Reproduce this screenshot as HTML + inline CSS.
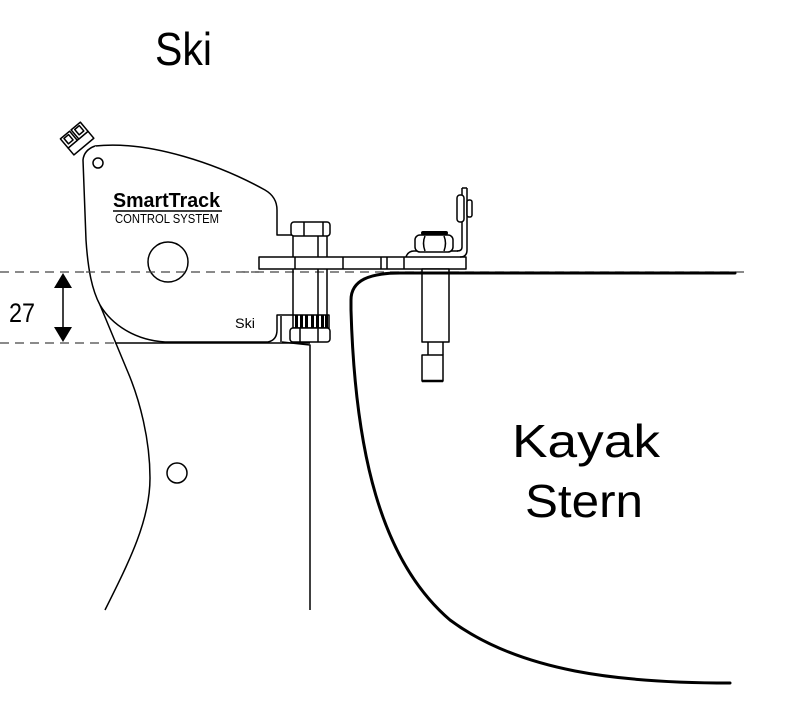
<!DOCTYPE html>
<html>
<head>
<meta charset="utf-8">
<style>
html,body{margin:0;padding:0;background:#fff;}
svg{display:block;}
text{font-family:"Liberation Sans",sans-serif;fill:#000;}
</style>
</head>
<body>
<svg width="792" height="714" viewBox="0 0 792 714" xmlns="http://www.w3.org/2000/svg">
  <rect width="792" height="714" fill="#fff"/>

  <!-- Titles -->
  <text x="155" y="65" font-size="46" textLength="57" lengthAdjust="spacingAndGlyphs">Ski</text>
  <text x="512" y="457" font-size="46" textLength="148" lengthAdjust="spacingAndGlyphs">Kayak</text>
  <text x="525" y="517" font-size="46" textLength="118" lengthAdjust="spacingAndGlyphs">Stern</text>

  <!-- dashed reference lines -->
  <line x1="0" y1="272" x2="745" y2="272" stroke="#444" stroke-width="1.3" stroke-dasharray="9,6"/>
  <line x1="0" y1="343" x2="115" y2="343" stroke="#444" stroke-width="1.3" stroke-dasharray="9,6"/>

  <!-- dimension arrow -->
  <line x1="63" y1="285" x2="63" y2="330" stroke="#000" stroke-width="1.5"/>
  <polygon points="63,273 54,288 72,288" fill="#000"/>
  <polygon points="63,342 54,327 72,327" fill="#000"/>
  <text x="9" y="322" font-size="27" textLength="26" lengthAdjust="spacingAndGlyphs">27</text>

  <g fill="none" stroke="#000" stroke-width="1.5" stroke-linejoin="round">
    <!-- connector plug top-left -->
    <g transform="translate(80,142) rotate(-40)">
      <rect x="-13" y="-3" width="26" height="9" fill="#fff"/>
      <rect x="-13" y="-15" width="12" height="12" fill="#fff"/>
      <rect x="1" y="-15" width="12" height="12" fill="#fff"/>
      <rect x="-10" y="-13" width="6" height="7" fill="#fff"/>
      <rect x="4" y="-13" width="6" height="7" fill="#fff"/>
    </g>

    <!-- ski mount body -->
    <path d="M95,146 C150,140 220,165 265,190 Q277,197 277,210 L277,235 L292,235"/>
    <path d="M95,146 Q84,150 83,160 L86,240 C88,270 92,290 100,305 C112,325 135,340 165,342 L268,342 Q277,340 277,330 L277,315 L293,315" fill="#fff"/>
    <line x1="281" y1="316" x2="281" y2="342"/>
    <!-- hull line of ski -->
    <path d="M100,305 L127,370 C140,400 150,440 150,478 C150,520 130,560 105,610"/>
    <!-- ski top & transom -->
    <line x1="115" y1="343" x2="310" y2="343"/>
    <path d="M282,342 L310,345 L310,610"/>

    <!-- circles -->
    <circle cx="98" cy="163" r="5"/>
    <circle cx="168" cy="262" r="20"/>
    <circle cx="177" cy="473" r="10"/>

    <!-- plate -->
    <rect x="259" y="257" width="207" height="12" fill="#fff"/>
    <line x1="295" y1="257" x2="295" y2="269"/>
    <line x1="343" y1="257" x2="343" y2="269"/>
    <line x1="381" y1="257" x2="381" y2="269"/>
    <line x1="387" y1="257" x2="387" y2="269"/>
    <line x1="404" y1="257" x2="404" y2="269"/>

    <!-- left bolt -->
    <rect x="291" y="222" width="39" height="14" rx="3" fill="#fff"/>
    <line x1="304" y1="222" x2="304" y2="236"/>
    <line x1="323" y1="222" x2="323" y2="236"/>
    <line x1="293" y1="236" x2="293" y2="257"/>
    <line x1="318" y1="236" x2="318" y2="257"/>
    <line x1="327" y1="236" x2="327" y2="257"/>
    <line x1="293" y1="269" x2="293" y2="315"/>
    <line x1="318" y1="269" x2="318" y2="315"/>
    <line x1="327" y1="269" x2="327" y2="315"/>
    <rect x="293" y="315" width="36" height="13" fill="#fff"/>
    <rect x="290" y="328" width="40" height="14" rx="3" fill="#fff"/>
    <line x1="300" y1="328" x2="300" y2="342"/>
    <line x1="318" y1="328" x2="318" y2="342"/>
  </g>
  <!-- redraw dashed line across body -->
  <line x1="86" y1="272" x2="259" y2="272" stroke="#444" stroke-width="1.3" stroke-dasharray="9,6"/>
  <!-- knurl stripes -->
  <g fill="#000">
    <rect x="295" y="315" width="3" height="13"/>
    <rect x="300" y="315" width="3" height="13"/>
    <rect x="305" y="315" width="3" height="13"/>
    <rect x="311" y="315" width="3" height="13"/>
    <rect x="316" y="315" width="3" height="13"/>
    <rect x="321" y="315" width="3" height="13"/>
    <rect x="325" y="315" width="3" height="13"/>
  </g>

  <g fill="none" stroke="#000" stroke-width="1.5" stroke-linejoin="round">
    <!-- right bracket -->
    <path d="M406,257 Q408,251 414,251 L458,251" />
    <rect x="415" y="235" width="38" height="17" rx="5" fill="#fff"/>
    <path d="M425,236 Q422,243 425,251"/>
    <path d="M444,236 Q447,243 444,251"/>
    <path d="M462,188 L462,247 Q462,251 457,251"/>
    <path d="M467,188 L467,250 Q467,257 460,257"/>
    <line x1="462" y1="188" x2="467" y2="188"/>
    <rect x="457" y="195" width="7" height="27" rx="3" fill="#fff"/>
    <rect x="467" y="200" width="5" height="17" rx="2" fill="#fff"/>

    <!-- post under kayak deck -->
    <rect x="422" y="269" width="27" height="73" fill="#fff"/>
    <line x1="428" y1="342" x2="428" y2="355"/>
    <line x1="443" y1="342" x2="443" y2="355"/>
    <rect x="422" y="355" width="21" height="26" fill="#fff"/>
  </g>
  <rect x="421" y="231" width="27" height="4" rx="2" fill="#000"/>
  <line x1="422" y1="381" x2="443" y2="381" stroke="#000" stroke-width="2.5"/>

  <!-- kayak hull -->
  <path d="M735,273 L400,273 C370,273 351,280 351,300 L351,310 C355,450 380,560 450,620 C520,672 620,683 730,683"
        fill="none" stroke="#000" stroke-width="3" stroke-linecap="round"/>

  <!-- logo -->
  <text x="113" y="207" font-size="20" font-weight="bold" textLength="107" lengthAdjust="spacingAndGlyphs">SmartTrack</text>
  <line x1="113" y1="211" x2="222" y2="211" stroke="#000" stroke-width="1.5"/>
  <text x="115" y="223" font-size="12.5" textLength="104" lengthAdjust="spacingAndGlyphs">CONTROL SYSTEM</text>

  <!-- small Ski label -->
  <text x="235" y="328" font-size="14" textLength="20" lengthAdjust="spacingAndGlyphs">Ski</text>
</svg>
</body>
</html>
